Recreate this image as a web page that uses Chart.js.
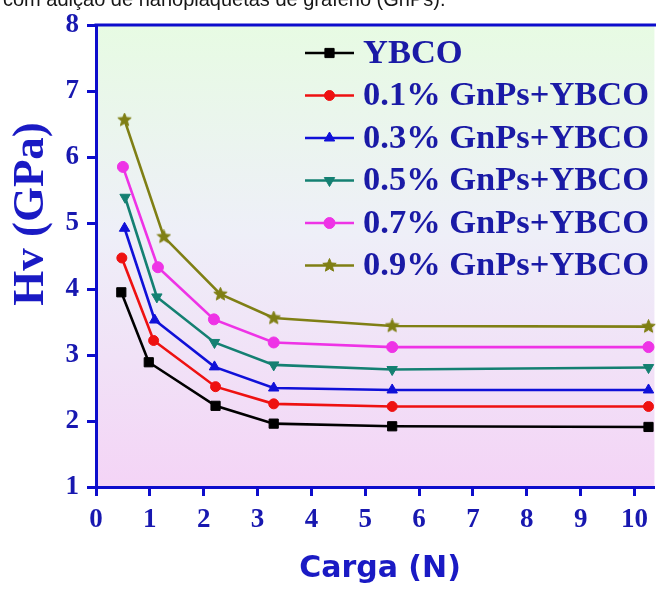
<!DOCTYPE html>
<html>
<head>
<meta charset="utf-8">
<script src="https://cdn.jsdelivr.net/npm/chart.js@4.4.1/dist/chart.umd.min.js"></script>
<style>
  html, body { margin: 0; padding: 0; background: #ffffff; overflow: hidden; }
  canvas { display: block; }
</style>
</head>
<body>
<canvas id="hv" width="656" height="589"></canvas>
<script>
// Vickers hardness (GPa) versus applied load (N) for YBCO with graphene nanoplatelets
const caption = 'com adição de nanoplaquetas de grafeno (GnPs).';
const xTitle = 'Carga (N)';
const yTitle = 'Hv (GPa)';

const seriesLabels = ['YBCO', '0.1% GnPs+YBCO', '0.3% GnPs+YBCO', '0.5% GnPs+YBCO', '0.7% GnPs+YBCO', '0.9% GnPs+YBCO'];

// applied load of each measurement, per sample
const loadYBCO = [0.47, 0.98, 2.22, 3.30, 5.50, 10.26];
const load01   = [0.48, 1.07, 2.22, 3.30, 5.50, 10.26];
const load03   = [0.53, 1.09, 2.20, 3.30, 5.50, 10.26];
const load05   = [0.54, 1.13, 2.20, 3.30, 5.50, 10.26];
const load07   = [0.50, 1.15, 2.19, 3.30, 5.50, 10.26];
const load09   = [0.53, 1.26, 2.31, 3.30, 5.50, 10.26];

// measured hardness
const hvYBCO = [3.95, 2.89, 2.23, 1.96, 1.92, 1.91];
const hv01   = [4.47, 3.22, 2.52, 2.26, 2.22, 2.22];
const hv03   = [4.92, 3.53, 2.82, 2.50, 2.47, 2.47];
const hv05   = [5.39, 3.88, 3.19, 2.85, 2.78, 2.81];
const hv07   = [5.85, 4.33, 3.54, 3.19, 3.12, 3.12];
const hv09   = [6.56, 4.79, 3.92, 3.56, 3.44, 3.43];

const xTicksMin = 0, xTicksMax = 10;
const yTicksMin = 1, yTicksMax = 8;

const axisColor = '#0d0dcc';
const tickTextColor = '#1818b0';
const titleColor = '#1a1ac4';
const legendTextColor = '#1a1aa6';

// filled five-point star marker
function makeStar(color, size) {
  const c = document.createElement('canvas');
  c.width = size; c.height = size;
  const g = c.getContext('2d');
  const cx = size / 2, cy = size / 2, ro = size / 2 - 0.5, ri = ro * 0.45;
  g.beginPath();
  for (let i = 0; i < 10; i++) {
    const r = i % 2 === 0 ? ro : ri;
    const a = -Math.PI / 2 + i * Math.PI / 5;
    const px = cx + r * Math.cos(a), py = cy + r * Math.sin(a);
    if (i === 0) g.moveTo(px, py); else g.lineTo(px, py);
  }
  g.closePath();
  g.fillStyle = color;
  g.fill();
  g.lineWidth = 1;
  g.strokeStyle = color;
  g.stroke();
  return c;
}

const starOlive = makeStar('#7f7f14', 15);

function pairs(xs, ys) { return xs.map((x, i) => ({ x: x, y: ys[i] })); }

function series(label, xs, ys, color, style, radius, rotation) {
  return {
    label: label,
    data: pairs(xs, ys),
    borderColor: color,
    backgroundColor: color,
    pointBackgroundColor: color,
    pointBorderColor: color,
    borderWidth: 2.6,
    pointStyle: style,
    pointRadius: radius,
    pointRotation: rotation || 0,
    pointBorderWidth: 1,
    tension: 0,
    fill: false,
    clip: false
  };
}

const datasets = [
  series(seriesLabels[0], loadYBCO, hvYBCO, '#000000', 'rect', 6.5),
  series(seriesLabels[1], load01, hv01, '#ee1111', 'circle', 5),
  series(seriesLabels[2], load03, hv03, '#1010d8', 'triangle', 6),
  series(seriesLabels[3], load05, hv05, '#148072', 'triangle', 6, 180),
  series(seriesLabels[4], load07, hv07, '#ee33e6', 'circle', 5.5),
  series(seriesLabels[5], load09, hv09, '#7f7f14', starOlive, 7)
];

const decor = {
  id: 'decor',
  beforeDraw(chart) {
    const { ctx, chartArea: a } = chart;
    const g = ctx.createLinearGradient(0, a.top, 0, a.bottom);
    g.addColorStop(0, '#e7fbe3');
    g.addColorStop(0.45, '#eeeff8');
    g.addColorStop(1, '#f4d4f6');
    ctx.save();
    ctx.fillStyle = g;
    ctx.fillRect(a.left, a.top, a.right - a.left, a.bottom - a.top);
    ctx.restore();
  },
  afterDraw(chart) {
    const { ctx, chartArea: a } = chart;
    ctx.save();
    // upper frame line
    ctx.strokeStyle = axisColor;
    ctx.lineWidth = 3;
    ctx.beginPath();
    ctx.moveTo(a.left - 1.5, a.top);
    ctx.lineTo(chart.width, a.top);
    ctx.stroke();

    // caption line above the plot
    ctx.fillStyle = '#161616';
    ctx.font = '20px "Liberation Sans", Arial, sans-serif';
    ctx.textAlign = 'left';
    ctx.textBaseline = 'alphabetic';
    ctx.fillText(caption, 3, 6);

    // axis titles
    ctx.fillStyle = titleColor;
    ctx.font = 'bold 30px "DejaVu Sans", Verdana, sans-serif';
    ctx.textAlign = 'center';
    ctx.fillText(xTitle, 380, 577);

    ctx.save();
    ctx.translate(43, 214);
    ctx.rotate(-Math.PI / 2);
    ctx.font = 'bold 45px "Liberation Serif", "Times New Roman", serif';
    ctx.textAlign = 'center';
    ctx.textBaseline = 'alphabetic';
    ctx.fillText(yTitle, 0, 0);
    ctx.restore();

    // legend: line sample with marker, then label
    const x0 = 305, x1 = 354, xt = 363;
    chart.data.datasets.forEach((ds, i) => {
      const y = 53 + 42.5 * i;
      ctx.strokeStyle = ds.borderColor;
      ctx.fillStyle = ds.borderColor;
      ctx.lineWidth = 2.6;
      ctx.beginPath();
      ctx.moveTo(x0, y);
      ctx.lineTo(x1, y);
      ctx.stroke();
      ctx.lineWidth = 1;
      Chart.helpers.drawPoint(ctx, {
        pointStyle: ds.pointStyle,
        rotation: ds.pointRotation,
        radius: ds.pointRadius,
        borderWidth: 1
      }, (x0 + x1) / 2, y);
      ctx.fillStyle = legendTextColor;
      ctx.font = 'bold 34.5px "Liberation Serif", "Times New Roman", serif';
      ctx.textAlign = 'left';
      ctx.textBaseline = 'middle';
      ctx.fillText(ds.label, xt, y + 1);
    });
    ctx.restore();
  }
};

const tickFont = { family: '"Liberation Serif", "Times New Roman", serif', size: 27, weight: 'bold' };

new Chart(document.getElementById('hv'), {
  type: 'line',
  data: { datasets: datasets },
  options: {
    responsive: false,
    devicePixelRatio: 1,
    animation: false,
    layout: { autoPadding: false, padding: { top: 25, left: 0, right: 0, bottom: 0 } },
    plugins: { legend: { display: false }, tooltip: { enabled: false } },
    scales: {
      x: {
        type: 'linear',
        min: xTicksMin,
        max: 10.37,
        afterFit(s) { s.height = 102; },
        ticks: {
          stepSize: 1,
          includeBounds: false,
          autoSkip: false,
          maxRotation: 0,
          color: tickTextColor,
          font: tickFont,
          padding: 8,
          callback: v => (v >= xTicksMin && v <= xTicksMax ? String(v) : '')
        },
        grid: { drawOnChartArea: false, drawTicks: true, tickLength: 9, tickWidth: 3, tickColor: axisColor },
        border: { display: true, color: axisColor, width: 3 }
      },
      y: {
        type: 'linear',
        min: yTicksMin,
        max: yTicksMax,
        afterFit(s) { s.width = 96; },
        ticks: {
          stepSize: 1,
          color: tickTextColor,
          font: tickFont,
          padding: 8
        },
        grid: { drawOnChartArea: false, drawTicks: true, tickLength: 9, tickWidth: 3, tickColor: axisColor },
        border: { display: true, color: axisColor, width: 3 }
      }
    }
  },
  plugins: [decor]
});
</script>
</body>
</html>
